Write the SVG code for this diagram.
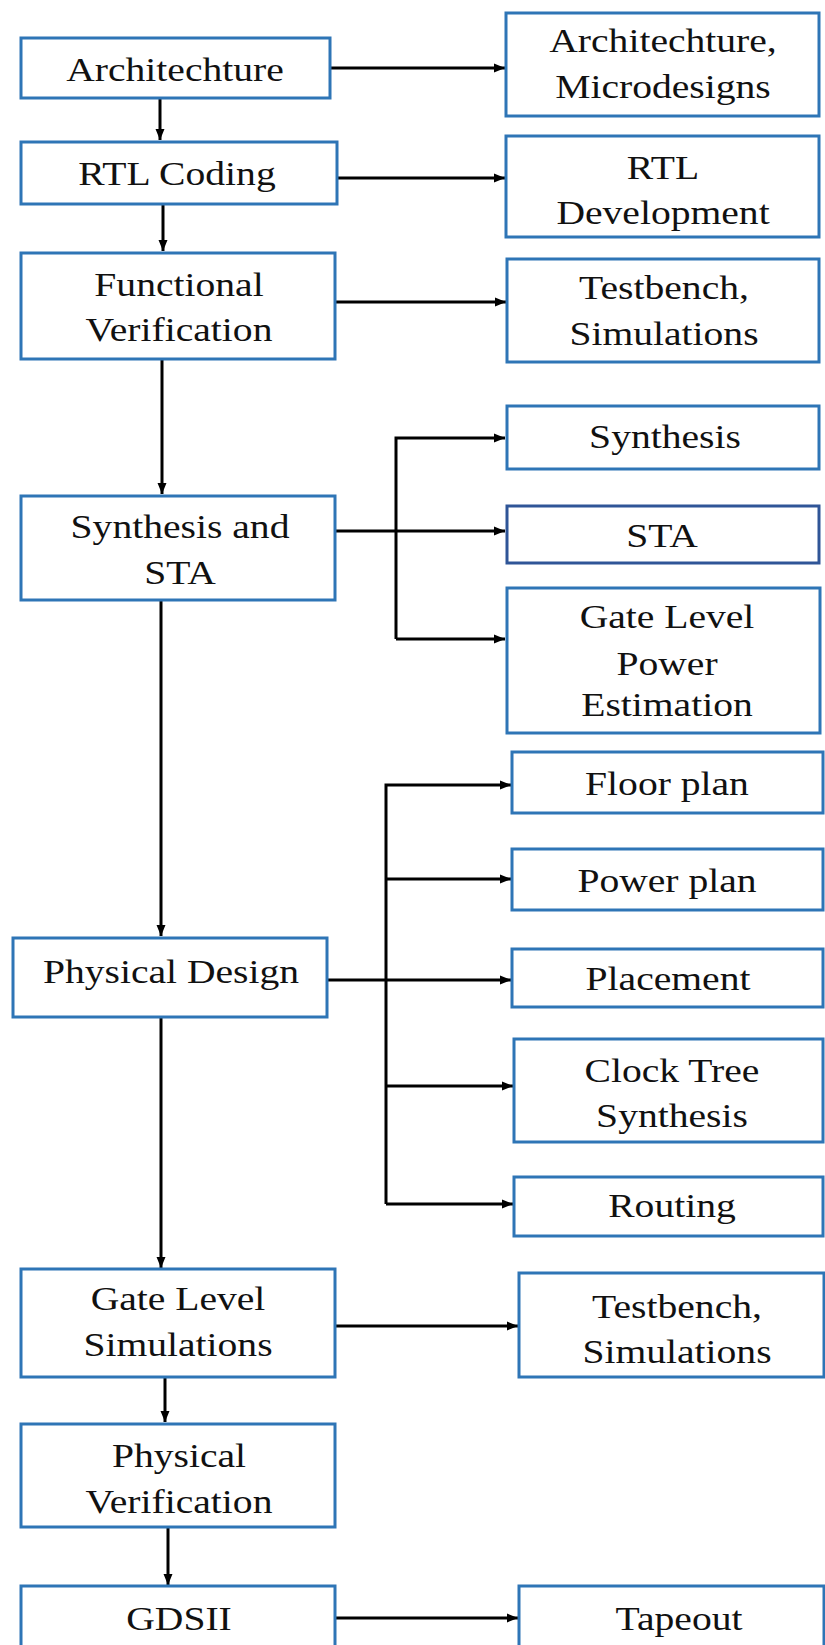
<svg xmlns="http://www.w3.org/2000/svg" width="825" height="1645" viewBox="0 0 825 1645">
<style>
.box{fill:#ffffff;stroke:#2e75b6;stroke-width:3}
.dark{stroke:#2f5597}
.lbl{font-family:"Liberation Serif","Times New Roman",serif;font-size:33px;fill:#111111;text-anchor:middle}
.con{fill:none;stroke:#000000;stroke-width:3}
</style>
<defs>
<marker id="ah" markerUnits="userSpaceOnUse" markerWidth="12" markerHeight="10" refX="11" refY="5" orient="auto">
<path d="M0,0.5 L11,5 L0,9.5 z" fill="#000000"/>
</marker>
</defs>
<rect width="825" height="1645" fill="#ffffff"/>

<g id="connectors">
<path class="con" d="M331,68 H505" marker-end="url(#ah)"/>
<path class="con" d="M160,99 V140" marker-end="url(#ah)"/>
<path class="con" d="M338,178 H505" marker-end="url(#ah)"/>
<path class="con" d="M163,205 V251" marker-end="url(#ah)"/>
<path class="con" d="M336,302 H506" marker-end="url(#ah)"/>
<path class="con" d="M162,360 V494" marker-end="url(#ah)"/>
<path class="con" d="M336,531 H505" marker-end="url(#ah)"/>
<path class="con" d="M396,639 V438 H505" marker-end="url(#ah)"/>
<path class="con" d="M396,639 H505" marker-end="url(#ah)"/>
<path class="con" d="M161,601 V936" marker-end="url(#ah)"/>
<path class="con" d="M328,980 H511" marker-end="url(#ah)"/>
<path class="con" d="M386,1204 V785 H511" marker-end="url(#ah)"/>
<path class="con" d="M386,879 H511" marker-end="url(#ah)"/>
<path class="con" d="M386,1086 H513" marker-end="url(#ah)"/>
<path class="con" d="M386,1204 H513" marker-end="url(#ah)"/>
<path class="con" d="M161,1018 V1268" marker-end="url(#ah)"/>
<path class="con" d="M336,1326 H518" marker-end="url(#ah)"/>
<path class="con" d="M165,1378 V1422" marker-end="url(#ah)"/>
<path class="con" d="M168,1528 V1585" marker-end="url(#ah)"/>
<path class="con" d="M336,1618 H518" marker-end="url(#ah)"/>
</g>

<g id="n-arch"><rect class="box" x="21" y="38" width="309" height="60"/>
<text class="lbl" transform="translate(175,0) scale(1.2,1)" x="0" y="81">Architechture</text></g>

<g id="n-archmicro"><rect class="box" x="506" y="13" width="313" height="103"/>
<text class="lbl" transform="translate(663,0) scale(1.2,1)"><tspan x="0" y="52">Architechture,</tspan><tspan x="0" y="98">Microdesigns</tspan></text></g>

<g id="n-rtl"><rect class="box" x="21" y="142" width="316" height="62"/>
<text class="lbl" transform="translate(177,0) scale(1.2,1)" x="0" y="185">RTL Coding</text></g>

<g id="n-rtldev"><rect class="box" x="506" y="136" width="313" height="101"/>
<text class="lbl" transform="translate(663,0) scale(1.2,1)"><tspan x="0" y="179">RTL</tspan><tspan x="0" y="224">Development</tspan></text></g>

<g id="n-fv"><rect class="box" x="21" y="253" width="314" height="106"/>
<text class="lbl" transform="translate(179,0) scale(1.2,1)"><tspan x="0" y="296">Functional</tspan><tspan x="0" y="341">Verification</tspan></text></g>

<g id="n-tb1"><rect class="box" x="507" y="259" width="312" height="103"/>
<text class="lbl" transform="translate(664,0) scale(1.2,1)"><tspan x="0" y="299">Testbench,</tspan><tspan x="0" y="345">Simulations</tspan></text></g>

<g id="n-synsta"><rect class="box" x="21" y="496" width="314" height="104"/>
<text class="lbl" transform="translate(180,0) scale(1.2,1)"><tspan x="0" y="538">Synthesis and</tspan><tspan x="0" y="584">STA</tspan></text></g>

<g id="n-synthesis"><rect class="box" x="507" y="406" width="312" height="63"/>
<text class="lbl" transform="translate(665,0) scale(1.2,1)" x="0" y="448">Synthesis</text></g>

<g id="n-sta"><rect class="box dark" x="507" y="506" width="312" height="57"/>
<text class="lbl" transform="translate(662,0) scale(1.2,1)" x="0" y="547">STA</text></g>

<g id="n-glpe"><rect class="box" x="507" y="588" width="313" height="145"/>
<text class="lbl" transform="translate(667,0) scale(1.2,1)"><tspan x="0" y="628">Gate Level</tspan><tspan x="0" y="675">Power</tspan><tspan x="0" y="716">Estimation</tspan></text></g>

<g id="n-pd"><rect class="box" x="13" y="938" width="314" height="79"/>
<text class="lbl" transform="translate(171,0) scale(1.2,1)" x="0" y="983">Physical Design</text></g>

<g id="n-floor"><rect class="box" x="512" y="752" width="311" height="61"/>
<text class="lbl" transform="translate(667,0) scale(1.2,1)" x="0" y="795">Floor plan</text></g>

<g id="n-power"><rect class="box" x="512" y="849" width="311" height="61"/>
<text class="lbl" transform="translate(667,0) scale(1.2,1)" x="0" y="892">Power plan</text></g>

<g id="n-placement"><rect class="box" x="512" y="949" width="311" height="58"/>
<text class="lbl" transform="translate(668,0) scale(1.2,1)" x="0" y="990">Placement</text></g>

<g id="n-cts"><rect class="box" x="514" y="1039" width="309" height="103"/>
<text class="lbl" transform="translate(672,0) scale(1.2,1)"><tspan x="0" y="1082">Clock Tree</tspan><tspan x="0" y="1127">Synthesis</tspan></text></g>

<g id="n-routing"><rect class="box" x="514" y="1177" width="309" height="59"/>
<text class="lbl" transform="translate(672,0) scale(1.2,1)" x="0" y="1217">Routing</text></g>

<g id="n-gls"><rect class="box" x="21" y="1269" width="314" height="108"/>
<text class="lbl" transform="translate(178,0) scale(1.2,1)"><tspan x="0" y="1310">Gate Level</tspan><tspan x="0" y="1356">Simulations</tspan></text></g>

<g id="n-tb2"><rect class="box" x="519" y="1273" width="305" height="104"/>
<text class="lbl" transform="translate(677,0) scale(1.2,1)"><tspan x="0" y="1318">Testbench,</tspan><tspan x="0" y="1363">Simulations</tspan></text></g>

<g id="n-pv"><rect class="box" x="21" y="1424" width="314" height="103"/>
<text class="lbl" transform="translate(179,0) scale(1.2,1)"><tspan x="0" y="1467">Physical</tspan><tspan x="0" y="1513">Verification</tspan></text></g>

<g id="n-gdsii"><rect class="box" x="21" y="1586" width="314" height="70"/>
<text class="lbl" transform="translate(179,0) scale(1.2,1)" x="0" y="1630">GDSII</text></g>

<g id="n-tapeout"><rect class="box" x="519" y="1586" width="305" height="70"/>
<text class="lbl" transform="translate(679,0) scale(1.2,1)" x="0" y="1630">Tapeout</text></g>
</svg>
